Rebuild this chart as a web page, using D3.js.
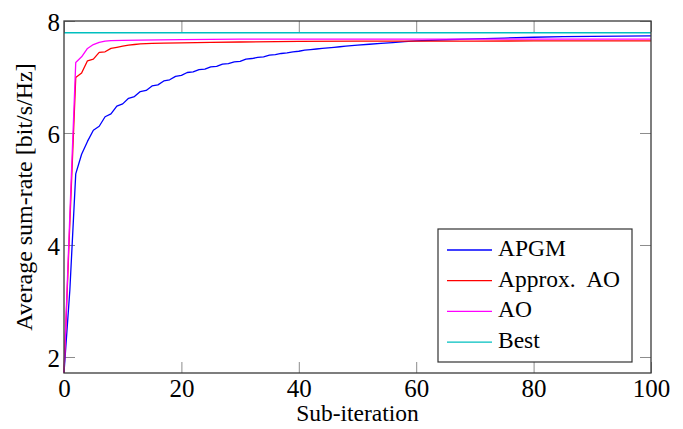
<!DOCTYPE html>
<html>
<head>
<meta charset="utf-8">
<script src="https://cdn.jsdelivr.net/npm/d3@7"></script>
<style>
  html, body { margin: 0; padding: 0; background: #fff; }
  svg { display: block; }
  text { font-family: "Liberation Serif", "Times New Roman", serif; fill: #000; }
</style>
</head>
<body>
<svg id="chart" width="683" height="429"></svg>
<script>
// ---- data ----
const apgmX = [0,1,2,3,4,5,6,7,8,9,10,11,12,13,14,15,16,17,18,19,20,21,22,23,24,25,26,27,28,29,30,31,32,33,34,35,36,37,38,39,40,41,42,43,44,45,46,47,48,49,50,52,54,56,58,60,65,70,75,80,85,90,95,100];
const apgmY = [1.72,3.2,5.27,5.62,5.85,6.05,6.12,6.29,6.34,6.48,6.52,6.62,6.65,6.74,6.76,6.84,6.86,6.93,6.95,7.01,7.03,7.08,7.09,7.13,7.14,7.18,7.19,7.23,7.24,7.27,7.28,7.32,7.33,7.35,7.36,7.39,7.40,7.42,7.43,7.45,7.46,7.48,7.49,7.50,7.51,7.52,7.53,7.54,7.55,7.56,7.57,7.585,7.60,7.615,7.63,7.645,7.665,7.68,7.695,7.71,7.72,7.725,7.73,7.735];

const approxX = [0,1,2,3,4,5,6,7,8,9,10,11,12,13,14,15,17,20,25,30,40,50,60,70,80,90,100];
const approxY = [1.72,4.4,6.99,7.07,7.29,7.32,7.44,7.45,7.51,7.53,7.55,7.57,7.58,7.59,7.595,7.60,7.605,7.61,7.62,7.625,7.635,7.64,7.64,7.642,7.644,7.645,7.645];

const aoX = [0,1,2,3,4,5,6,7,8,10,13,20,30,50,100];
const aoY = [1.72,4.55,7.26,7.36,7.51,7.58,7.62,7.64,7.65,7.655,7.66,7.668,7.675,7.677,7.678];

const bestX = [0,100];
const bestY = [7.79,7.79];

const seriesNames = ["APGM", "Approx.  AO", "AO", "Best"];
const seriesColors = ["#0000ff", "#ff0000", "#ff00ff", "#00bfbf"];
const xTicks = [0,20,40,60,80,100];
const yTicks = [2,4,6,8];
const xLabel = "Sub-iteration";
const yLabel = "Average sum-rate [bit/s/Hz]";

// ---- layout ----
const svg = d3.select("#chart");
const L = 64, R = 651, T = 21, B = 373;
const x = d3.scaleLinear().domain([0,100]).range([L,R]);
const y = d3.scaleLinear().domain([1.714,8]).range([B,T]);

const tickColor = "#8c8c8c";
const TL = 11;

function styleAxis(g){
  g.select(".domain").remove();
  g.selectAll(".tick line").attr("stroke", tickColor).attr("stroke-width", 1);
  g.selectAll(".tick text").attr("font-size", 25).attr("fill", "#000")
    .style("font-family", '"Liberation Serif", serif');
}

svg.append("g").attr("transform", `translate(0,${B})`)
  .call(d3.axisBottom(x).tickValues(xTicks).tickSize(-TL).tickPadding(6).tickFormat(d3.format("d")))
  .call(styleAxis);
svg.append("g").attr("transform", `translate(0,${T})`)
  .call(d3.axisTop(x).tickValues(xTicks).tickSize(-TL).tickFormat(""))
  .call(styleAxis);
svg.append("g").attr("transform", `translate(${L},0)`)
  .call(d3.axisLeft(y).tickValues(yTicks).tickSize(-TL).tickPadding(4).tickFormat(d3.format("d")))
  .call(styleAxis)
  .selectAll(".tick text").attr("dy", "0.38em");
svg.append("g").attr("transform", `translate(${R},0)`)
  .call(d3.axisRight(y).tickValues(yTicks).tickSize(-TL).tickFormat(""))
  .call(styleAxis);

// ---- lines ----
const line = d3.line().x(d => x(d[0])).y(d => y(d[1]));
const series = [
  d3.zip(apgmX, apgmY),
  d3.zip(approxX, approxY),
  d3.zip(aoX, aoY),
  d3.zip(bestX, bestY)
];
const plot = svg.append("g");
series.forEach((s, i) => {
  plot.append("path").datum(s)
    .attr("d", line)
    .attr("fill", "none")
    .attr("stroke", seriesColors[i])
    .attr("stroke-width", 1.3)
    .attr("stroke-linejoin", "round");
});

// ---- frame ----
svg.append("rect").attr("x", L).attr("y", T).attr("width", R-L).attr("height", B-T)
  .attr("fill", "none").attr("stroke", "#3a3a3a").attr("stroke-width", 1.3);

// ---- axis labels ----
svg.append("text").attr("x", (L+R)/2).attr("y", 421).attr("text-anchor", "middle")
  .attr("font-size", 23.5).text(xLabel);
svg.append("text").attr("transform", `translate(32,${(T+B)/2}) rotate(-90)`)
  .attr("text-anchor", "middle").attr("font-size", 24).text(yLabel);

// ---- legend ----
const lg = svg.append("g");
lg.append("rect").attr("x", 438).attr("y", 229).attr("width", 194).attr("height", 133)
  .attr("fill", "#fff").attr("stroke", "#333").attr("stroke-width", 1.2);
seriesNames.forEach((n, i) => {
  const by = 256 + i * 30.7;
  lg.append("line").attr("x1", 447).attr("x2", 492).attr("y1", by - 6).attr("y2", by - 6)
    .attr("stroke", seriesColors[i]).attr("stroke-width", 1.3);
  lg.append("text").attr("x", 498).attr("y", by).attr("font-size", 23.5)
    .style("white-space", "pre").text(n);
});
</script>
</body>
</html>
